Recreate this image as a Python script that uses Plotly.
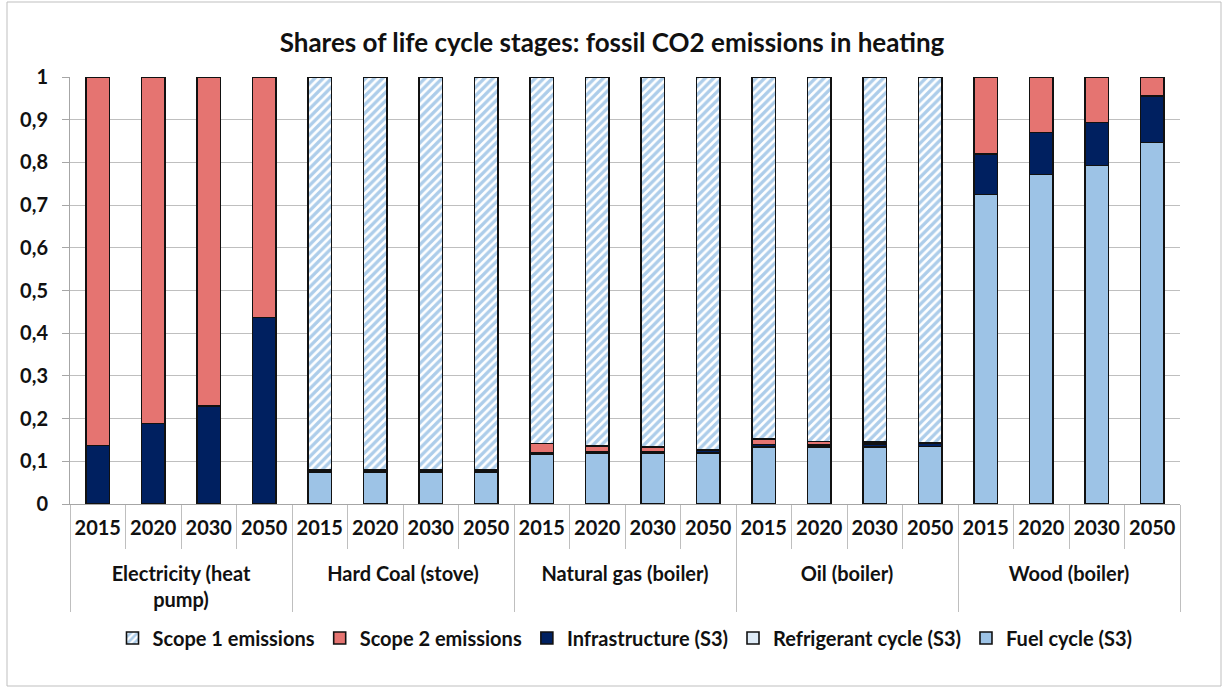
import plotly.graph_objects as go

# Technologies and reference years (two-level category axis)
techs = ["Electricity (heat<br>pump)", "Hard Coal (stove)", "Natural gas (boiler)",
         "Oil (boiler)", "Wood (boiler)"]
years = ["2015", "2020", "2030", "2050"]

# Shares of fossil CO2 emissions per life cycle stage (5 techs x 4 years)
fuel_cycle = [0.000, 0.000, 0.000, 0.000,
              0.075, 0.075, 0.075, 0.075,
              0.117, 0.118, 0.120, 0.120,
              0.133, 0.133, 0.133, 0.135,
              0.725, 0.772, 0.793, 0.847]
refrigerant = [0.000, 0.000, 0.000, 0.000,
               0.000, 0.000, 0.000, 0.000,
               0.000, 0.000, 0.000, 0.000,
               0.000, 0.000, 0.000, 0.000,
               0.000, 0.000, 0.000, 0.000]
infrastructure = [0.137, 0.189, 0.230, 0.437,
                  0.005, 0.005, 0.005, 0.005,
                  0.003, 0.004, 0.003, 0.006,
                  0.006, 0.005, 0.007, 0.008,
                  0.095, 0.098, 0.100, 0.108]
scope2 = [0.863, 0.811, 0.770, 0.563,
          0.000, 0.000, 0.000, 0.000,
          0.022, 0.014, 0.010, 0.001,
          0.013, 0.008, 0.005, 0.001,
          0.180, 0.130, 0.107, 0.045]
scope1 = [0.000, 0.000, 0.000, 0.000,
          0.920, 0.920, 0.920, 0.920,
          0.858, 0.864, 0.867, 0.873,
          0.848, 0.854, 0.855, 0.856,
          0.000, 0.000, 0.000, 0.000]

y_ticks = [0, 0.1, 0.2, 0.3, 0.4, 0.5, 0.6, 0.7, 0.8, 0.9, 1]
y_tick_text = ["0", "0,1", "0,2", "0,3", "0,4", "0,5", "0,6", "0,7", "0,8", "0,9", "1"]

# outer level pushed down one line so it sits beneath the year row
x_outer = ["<br>" + t for t in techs for _ in years]
x_inner = [y for _ in techs for y in years]
x = [x_outer, x_inner]

FONT = "Lato"
TXT = "#111111"
edge = dict(color="#111111", width=1.6)

fig = go.Figure()
fig.add_bar(x=x, y=fuel_cycle, name="Fuel cycle (S3)",
            marker=dict(color="#9dc3e6", line=edge))
fig.add_bar(x=x, y=refrigerant, name="Refrigerant cycle (S3)",
            marker=dict(color="#deebf7", line=edge))
fig.add_bar(x=x, y=infrastructure, name="Infrastructure (S3)",
            marker=dict(color="#002060", line=edge))
fig.add_bar(x=x, y=scope2, name="Scope 2 emissions",
            marker=dict(color="#e57471", line=edge))
fig.add_bar(x=x, y=scope1, name="Scope 1 emissions",
            marker=dict(color="white", line=edge,
                        pattern=dict(shape="/", fgcolor="#5b9bd5", bgcolor="white",
                                     size=6, solidity=0.55)))

ml, mr, mt, mb = 70, 44, 77, 183
W, H = 1224, 687
pw, ph = W - ml - mr, H - mt - mb

def px(xp):
    return (xp - ml) / pw

def py(yp):
    return (H - mb - yp) / ph

bold = dict(family=FONT, size=20, color=TXT, weight="bold")

fig.update_layout(
    width=W, height=H,
    barmode="stack",
    bargap=0.57,
    paper_bgcolor="white",
    plot_bgcolor="white",
    margin=dict(l=ml, r=mr, t=mt, b=mb),
    font=dict(family=FONT, size=20, color=TXT),
    title=dict(text="<b>Shares of life cycle stages: fossil CO2 emissions in heating</b>",
               x=0.5, xanchor="center", y=1 - 43 / H, yanchor="middle",
               font=dict(family=FONT, size=26, color=TXT)),
    showlegend=True,
    legend=dict(orientation="h", traceorder="reversed",
                x=0.5, xanchor="center", y=py(638), yanchor="middle",
                font=bold, itemwidth=30),
    xaxis=dict(type="multicategory", automargin=False, tickangle=0,
               showline=True, linecolor="#a6a6a6", linewidth=1,
               ticks="outside", tickson="boundaries", ticklen=44,
               tickcolor="#bfbfbf", ticklabelstandoff=6,
               showdividers=True, dividercolor="#bfbfbf", dividerwidth=1,
               tickfont=bold, showgrid=False),
    yaxis=dict(range=[0, 1], tickvals=y_ticks, ticktext=y_tick_text, automargin=False,
               showgrid=True, gridcolor="#bfbfbf", gridwidth=1,
               showline=True, linecolor="#a6a6a6", linewidth=1,
               zeroline=False, ticks="outside", ticklen=7, tickcolor="#a6a6a6",
               ticklabelstandoff=10, tickfont=bold),
    shapes=[dict(type="rect", xref="paper", yref="paper",
                 x0=px(7), x1=px(1221), y0=py(686), y1=py(2),
                 line=dict(color="#bfbfbf", width=1), fillcolor="rgba(0,0,0,0)",
                 layer="below")],
)

fig.write_html("out.html")
